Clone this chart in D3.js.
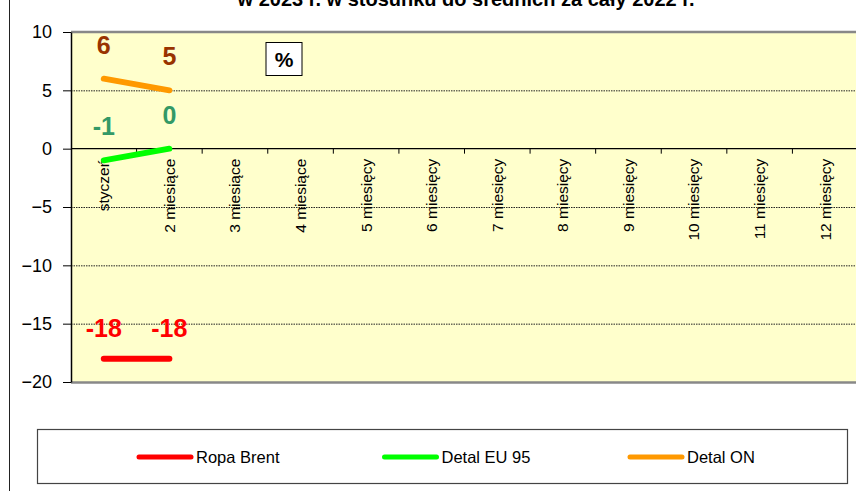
<!DOCTYPE html>
<html>
<head>
<meta charset="utf-8">
<script src="https://cdn.jsdelivr.net/npm/d3@7"></script>
<style>
  body { margin: 0; background: #fff; }
  svg { display: block; font-family: Arial, "Liberation Sans", sans-serif; }
</style>
</head>
<body>
<svg id="vis" width="856" height="491"></svg>
<script>
// chart data
let categories = ["styczeń", "2 miesiące", "3 miesiące", "4 miesiące", "5 miesięcy", "6 miesięcy",
                  "7 miesięcy", "8 miesięcy", "9 miesięcy", "10 miesięcy", "11 miesięcy", "12 miesięcy"];
let seriesNames = ["Ropa Brent", "Detal EU 95", "Detal ON"];
let ropaBrent = [-18, -18];
let detalEU95 = [-1, 0];
let detalON = [6, 5];
let yTicks = [10, 5, 0, -5, -10, -15, -20];
let titleText = "w 2023 r. w stosunku do średnich za cały 2022 r.";

let lineColors = ["#ff0000", "#00ff00", "#ff9900"];
let labelColors = ["#ff0000", "#339966", "#993300"];
let seriesValues = [ropaBrent, detalEU95, detalON];

let svg = d3.select("#vis");
let plotLeft = 71, plotRight = 858, plotTop = 32, plotBottom = 382;

let x = d3.scaleBand().domain(categories).range([plotLeft, plotRight]);
let y = d3.scaleLinear().domain([-20, 10]).range([plotBottom, plotTop]);

// outer chart frame (left edge only visible)
svg.append("line")
  .attr("x1", 9.5).attr("x2", 9.5).attr("y1", 0).attr("y2", 491)
  .attr("stroke", "#222").attr("stroke-width", 1);

// title (its top is cut off in the original too)
svg.append("text")
  .attr("x", 466).attr("y", 6)
  .attr("text-anchor", "middle")
  .attr("font-size", 20).attr("font-weight", "bold")
  .text(titleText);

// plot area
svg.append("rect")
  .attr("x", plotLeft).attr("y", plotTop)
  .attr("width", plotRight - plotLeft).attr("height", plotBottom - plotTop)
  .attr("fill", "#ffffcc");

// dotted gridlines
svg.append("g").selectAll("line")
  .data(yTicks.filter(d => d != 0 && d != 10 && d != -20))
  .enter().append("line")
  .attr("x1", plotLeft).attr("x2", plotRight)
  .attr("y1", d => y(d) + 0.5).attr("y2", d => y(d) + 0.5)
  .attr("stroke", "#222").attr("stroke-width", 1)
  .attr("stroke-dasharray", "1.5,1");

// top / bottom plot borders
svg.append("line")
  .attr("x1", plotLeft).attr("x2", plotRight).attr("y1", y(10)).attr("y2", y(10))
  .attr("stroke", "#888").attr("stroke-width", 2.5);
svg.append("line")
  .attr("x1", plotLeft).attr("x2", plotRight).attr("y1", y(-20) + 0.5).attr("y2", y(-20) + 0.5)
  .attr("stroke", "#888").attr("stroke-width", 2.5);

// y axis
let yAxis = svg.append("g")
  .attr("transform", "translate(" + plotLeft + ",0)")
  .call(d3.axisLeft(y).tickValues(yTicks).tickSize(8).tickPadding(11).tickSizeOuter(0));
yAxis.select(".domain").attr("stroke", "#000").attr("stroke-width", 1.5);
yAxis.selectAll(".tick line").attr("stroke", "#000");
yAxis.selectAll("text").attr("font-size", 18).attr("font-family", "Arial, 'Liberation Sans', sans-serif")
  .attr("fill", "#000");

// category axis at zero
svg.append("line")
  .attr("x1", plotLeft).attr("x2", plotRight).attr("y1", y(0)).attr("y2", y(0))
  .attr("stroke", "#000").attr("stroke-width", 1.2);
svg.append("g").selectAll("line")
  .data(categories)
  .enter().append("line")
  .attr("x1", d => x(d) + x.bandwidth()).attr("x2", d => x(d) + x.bandwidth())
  .attr("y1", y(0)).attr("y2", y(0) + 5)
  .attr("stroke", "#000").attr("stroke-width", 1);

svg.append("g").selectAll("text")
  .data(categories)
  .enter().append("text")
  .attr("transform", d => "translate(" + (x(d) + x.bandwidth() / 2) + "," + (y(0) + 10) + ") rotate(-90)")
  .attr("text-anchor", "end")
  .attr("dy", "0.35em")
  .attr("font-size", 15.5)
  .text(d => d);

// series lines
let line = d3.line()
  .x((d, i) => x(categories[i]) + x.bandwidth() / 2)
  .y(d => y(d));

seriesValues.forEach((vals, s) => {
  svg.append("path")
    .datum(vals)
    .attr("d", line)
    .attr("fill", "none")
    .attr("stroke", lineColors[s])
    .attr("stroke-width", 6)
    .attr("stroke-linecap", "round");
});

// data labels
seriesValues.forEach((vals, s) => {
  svg.append("g").selectAll("text")
    .data(vals)
    .enter().append("text")
    .attr("x", (d, i) => x(categories[i]) + x.bandwidth() / 2)
    .attr("y", d => y(d) - (s == 0 ? 22 : 25))
    .attr("text-anchor", "middle")
    .attr("font-size", 25).attr("font-weight", "bold")
    .attr("fill", labelColors[s])
    .text(d => d);
});

// "%" box
svg.append("rect")
  .attr("x", 266).attr("y", 42.5).attr("width", 36).attr("height", 33)
  .attr("fill", "#fff").attr("stroke", "#000").attr("stroke-width", 1);
svg.append("text")
  .attr("x", 284).attr("y", 66.5)
  .attr("text-anchor", "middle")
  .attr("font-size", 21).attr("font-weight", "bold")
  .text("%");

// legend
svg.append("rect")
  .attr("x", 37.5).attr("y", 429.5).attr("width", 810).attr("height", 54)
  .attr("fill", "#fff").attr("stroke", "#444").attr("stroke-width", 1.2);

let lx = d3.scalePoint().domain(seriesNames).range([137, 628]);
let legend = svg.append("g").selectAll("g")
  .data(seriesNames)
  .enter().append("g")
  .attr("transform", d => "translate(" + lx(d) + ",457)");
legend.append("line")
  .attr("x1", 2).attr("x2", 54).attr("y1", 0).attr("y2", 0)
  .attr("stroke", (d, i) => lineColors[i])
  .attr("stroke-width", 5)
  .attr("stroke-linecap", "round");
legend.append("text")
  .attr("x", 59).attr("dy", "0.35em")
  .attr("font-size", 16.5)
  .text(d => d);
</script>
</body>
</html>
